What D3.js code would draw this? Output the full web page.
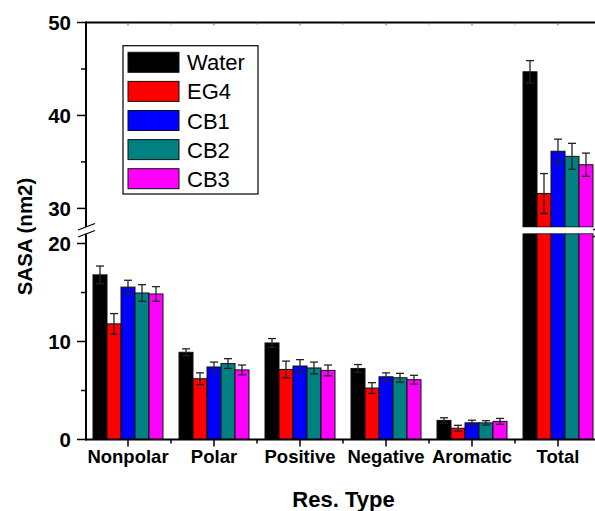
<!DOCTYPE html>
<html>
<head>
<meta charset="utf-8">
<script src="https://cdn.jsdelivr.net/npm/d3@7"></script>
<style>
  html, body { margin: 0; padding: 0; background: #fff; }
  svg { display: block; }
  text { font-family: "Liberation Sans", Arial, sans-serif; }
</style>
</head>
<body>
<svg id="chart" width="595" height="511"></svg>
<script>
// Solvent-accessible surface area per residue class
const categories = ["Nonpolar", "Polar", "Positive", "Negative", "Aromatic", "Total"];
const series = ["Water", "EG4", "CB1", "CB2", "CB3"];
const colors = ["#000000", "#ff0000", "#0000ff", "#008080", "#ff00ff"];

const water    = [16.8, 8.9, 9.85, 7.25, 1.95, 44.7];
const waterErr = [0.9, 0.35, 0.45, 0.4, 0.27, 1.2];
const eg4      = [11.8, 6.2, 7.15, 5.25, 1.15, 31.6];
const eg4Err   = [1.05, 0.6, 0.85, 0.55, 0.3, 2.15];
const cb1      = [15.55, 7.4, 7.5, 6.4, 1.7, 36.15];
const cb1Err   = [0.7, 0.5, 0.65, 0.4, 0.27, 1.3];
const cb2      = [14.95, 7.75, 7.3, 6.3, 1.7, 35.6];
const cb2Err   = [0.85, 0.5, 0.6, 0.45, 0.22, 1.4];
const cb3      = [14.85, 7.1, 7.05, 6.1, 1.85, 34.7];
const cb3Err   = [0.75, 0.5, 0.55, 0.45, 0.3, 1.25];

const lowTicks = [0, 10, 20];
const lowMinor = [5, 15];
const highTicks = [30, 40, 50];
const highMinor = [35, 45];

const values = [water, eg4, cb1, cb2, cb3];
const errors = [waterErr, eg4Err, cb1Err, cb2Err, cb3Err];

// Broken y axis: lower segment 0–21, upper segment 28–50
const lowMax = 21, highMin = 28;

const svg = d3.select("#chart");
const plotLeft = 86, plotRight = 601, plotTop = 22.5, plotBottom = 439.5;
const lowTop = 233.7, highBottom = 227;

const x = d3.scaleBand().domain(categories).range([85, 601]).padding(0);
const xs = d3.scaleBand().domain(series).range([-35, 35]).padding(0);
const yLow = d3.scaleLinear().domain([0, lowMax]).range([plotBottom, lowTop]);
const yHigh = d3.scaleLinear().domain([highMin, 50]).range([highBottom, plotTop]);
const yAt = v => v <= lowMax ? yLow(v) : yHigh(v);

const font = '"Liberation Sans", Arial, sans-serif';

// Bars
const records = [];
categories.forEach((c, i) => {
  series.forEach((s, j) => {
    records.push({ cat: c, ser: s, color: colors[j], v: values[j][i], e: errors[j][i] });
  });
});

const gBars = svg.append("g");
records.forEach(d => {
  const x0 = x(d.cat) + x.bandwidth() / 2 + xs(d.ser);
  const w = xs.bandwidth();
  const lowVal = Math.min(d.v, lowMax);
  gBars.append("rect")
    .attr("x", x0).attr("width", w)
    .attr("y", yLow(lowVal)).attr("height", yLow(0) - yLow(lowVal))
    .attr("fill", d.color).attr("stroke", "#111").attr("stroke-width", 1);
  if (d.v > highMin) {
    gBars.append("rect")
      .attr("x", x0).attr("width", w)
      .attr("y", yHigh(d.v)).attr("height", yHigh(highMin) - yHigh(d.v))
      .attr("fill", d.color).attr("stroke", "#111").attr("stroke-width", 1);
  }
});

// Error bars
const gErr = svg.append("g").attr("stroke", "#222").attr("stroke-width", 1.3);
records.forEach(d => {
  const cx = x(d.cat) + x.bandwidth() / 2 + xs(d.ser) + xs.bandwidth() / 2;
  const y1 = yAt(d.v + d.e), y2 = yAt(d.v - d.e);
  gErr.append("line").attr("x1", cx).attr("x2", cx).attr("y1", y1).attr("y2", y2);
  gErr.append("line").attr("x1", cx - 4).attr("x2", cx + 4).attr("y1", y1).attr("y2", y1);
  gErr.append("line").attr("x1", cx - 4).attr("x2", cx + 4).attr("y1", y2).attr("y2", y2);
});

// White break band across the plot
svg.append("rect").attr("x", plotLeft + 1).attr("y", highBottom + 0.5)
  .attr("width", plotRight - plotLeft).attr("height", lowTop - highBottom - 1).attr("fill", "#fff");

// Frame
const axisColor = "#000";
svg.append("line").attr("x1", plotLeft).attr("x2", plotRight + 1).attr("y1", plotTop).attr("y2", plotTop)
  .attr("stroke", axisColor).attr("stroke-width", 2);
svg.append("line").attr("x1", plotLeft).attr("x2", plotRight + 1).attr("y1", plotBottom).attr("y2", plotBottom)
  .attr("stroke", axisColor).attr("stroke-width", 2);
svg.append("line").attr("x1", plotLeft).attr("x2", plotLeft).attr("y1", plotTop - 1).attr("y2", highBottom)
  .attr("stroke", axisColor).attr("stroke-width", 2);
svg.append("line").attr("x1", plotLeft).attr("x2", plotLeft).attr("y1", lowTop).attr("y2", plotBottom + 1)
  .attr("stroke", axisColor).attr("stroke-width", 2);

// Break marks on both vertical edges
[plotLeft, plotRight].forEach(ex => {
  [[230, 223.5], [237, 230.5]].forEach(([ya, yb]) => {
    svg.append("line").attr("x1", ex - 8).attr("x2", ex + 9)
      .attr("y1", ya).attr("y2", yb).attr("stroke", "#000").attr("stroke-width", 1.3);
  });
});

// Y ticks and labels
const gY = svg.append("g");
function yTicks(scale, majors, minors) {
  majors.forEach(t => {
    gY.append("line").attr("x1", plotLeft - 9).attr("x2", plotLeft).attr("y1", scale(t)).attr("y2", scale(t))
      .attr("stroke", "#000").attr("stroke-width", 1.5);
    gY.append("text").attr("x", 71).attr("y", scale(t)).attr("dy", "0.36em")
      .attr("text-anchor", "end").attr("font-size", 20.5).attr("font-weight", "bold")
      .attr("font-family", font).text(t);
  });
  minors.forEach(t => {
    gY.append("line").attr("x1", plotLeft - 5).attr("x2", plotLeft).attr("y1", scale(t)).attr("y2", scale(t))
      .attr("stroke", "#000").attr("stroke-width", 1.5);
  });
}
yTicks(yLow, lowTicks, lowMinor);
yTicks(yHigh, highTicks, highMinor);

// X ticks and category labels
const gX = svg.append("g");
categories.forEach(c => {
  const cx = x(c) + x.bandwidth() / 2;
  gX.append("line").attr("x1", cx).attr("x2", cx).attr("y1", plotBottom).attr("y2", plotBottom + 7)
    .attr("stroke", "#000").attr("stroke-width", 1.5);
  gX.append("line").attr("x1", cx).attr("x2", cx).attr("y1", plotTop).attr("y2", plotTop + 3)
    .attr("stroke", "#666").attr("stroke-width", 1);
  gX.append("text").attr("x", cx).attr("y", 463.3).attr("text-anchor", "middle")
    .attr("font-size", 18.5).attr("font-weight", "bold").attr("font-family", font).text(c);
});
categories.slice(1).forEach(c => {
  const bx = x(c);
  gX.append("line").attr("x1", bx).attr("x2", bx).attr("y1", plotBottom).attr("y2", plotBottom + 4)
    .attr("stroke", "#000").attr("stroke-width", 1.5);
  gX.append("line").attr("x1", bx).attr("x2", bx).attr("y1", plotTop).attr("y2", plotTop + 2)
    .attr("stroke", "#666").attr("stroke-width", 1);
});

// Axis titles
svg.append("text").attr("x", 343.5).attr("y", 507).attr("text-anchor", "middle")
  .attr("font-size", 22).attr("font-weight", "bold").attr("font-family", font).text("Res. Type");
svg.append("text").attr("transform", "translate(32,236.5) rotate(-90)").attr("text-anchor", "middle")
  .attr("font-size", 20.5).attr("font-weight", "bold").attr("font-family", font).text("SASA (nm2)");

// Legend
const lg = svg.append("g");
lg.append("rect").attr("x", 123).attr("y", 45.7).attr("width", 135).attr("height", 148.3)
  .attr("fill", "#fff").attr("stroke", "#000").attr("stroke-width", 1.2);
series.forEach((s, j) => {
  const yy = 52.3 + j * 29.1;
  lg.append("rect").attr("x", 128).attr("y", yy).attr("width", 51).attr("height", 20)
    .attr("fill", colors[j]).attr("stroke", "#111").attr("stroke-width", 1);
  lg.append("text").attr("x", 187).attr("y", yy + 18).attr("font-size", 22)
    .attr("font-family", font).text(s);
});
</script>
</body>
</html>
